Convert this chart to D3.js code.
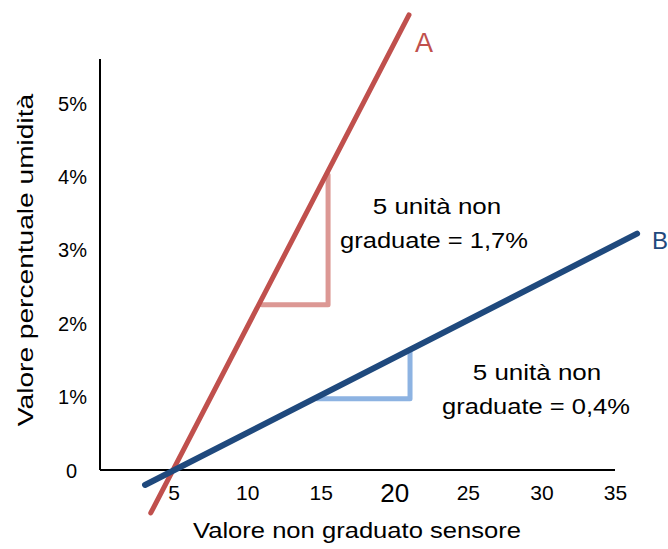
<!DOCTYPE html>
<html>
<head>
<meta charset="utf-8">
<script src="https://cdn.jsdelivr.net/npm/d3@7"></script>
<style>
  html, body { margin: 0; padding: 0; background: #ffffff; }
  svg { display: block; }
  text { font-family: "Liberation Sans", Arial, sans-serif; fill: #000; }
</style>
</head>
<body>
<script>
// ---- data ----
const xTicks = [5, 10, 15, 20, 25, 30, 35];
const xTickLabels = ["5", "10", "15", "20", "25", "30", "35"];
const yTicks = [0, 1, 2, 3, 4, 5];
const yTickLabels = ["0", "1%", "2%", "3%", "4%", "5%"];
const lineA = [[3.45, -0.585], [21.0, 6.2]];
const lineB = [[3.06, -0.204], [36.5, 3.22]];
const triangleA = [[11.0, 2.25], [15.5, 2.25], [15.5, 4.02]];
const triangleB = [[14.75, 0.97], [21.07, 0.97], [21.07, 1.62]];
const seriesNames = ["A", "B"];
const noteA = ["5 unità non", "graduate = 1,7%"];
const noteB = ["5 unità non", "graduate = 0,4%"];
const xTitle = "Valore non graduato sensore";
const yTitle = "Valore percentuale umidità";

// ---- layout ----
const W = 668, H = 549;
const svg = d3.select("body").append("svg").attr("width", W).attr("height", H);

const x = d3.scaleLinear().domain([0, 35]).range([100, 615]);
const y = d3.scaleLinear().domain([0, 5.6]).range([470, 59]);

// axes (no tick marks)
const xAxis = d3.axisBottom(x).tickValues(xTicks).tickSize(0).tickFormat((d, i) => xTickLabels[i]);
const gx = svg.append("g").attr("transform", `translate(0,${y(0)})`).call(xAxis);
gx.select(".domain").attr("stroke", "#000").attr("stroke-width", 2).attr("d", `M${x(0)},0H${x(35)}`);
gx.selectAll(".tick text")
  .attr("font-family", "Liberation Sans, Arial, sans-serif")
  .attr("font-size", d => d === 20 ? 26 : 21)
  .attr("fill", "#000")
  .attr("dy", null)
  .attr("y", d => d === 20 ? 32 : 30);

const yAxis = d3.axisLeft(y).tickValues(yTicks).tickSize(0).tickFormat((d, i) => yTickLabels[i]);
const gy = svg.append("g").attr("transform", `translate(${x(0)},0)`).call(yAxis);
gy.select(".domain").attr("stroke", "#000").attr("stroke-width", 2).attr("d", `M0,${y(5.6)}V${y(0)}`);
gy.selectAll(".tick text")
  .attr("font-family", "Liberation Sans, Arial, sans-serif")
  .attr("font-size", 20)
  .attr("fill", "#000")
  .attr("x", d => d === 0 ? -23 : -13)
  .attr("dy", "0.35em");

// lines
const line = d3.line().x(d => x(d[0])).y(d => y(d[1]));

svg.append("path").datum(triangleA).attr("d", line)
  .attr("fill", "none").attr("stroke", "#dc9894").attr("stroke-width", 5)
  .attr("stroke-linecap", "round").attr("stroke-linejoin", "round");
svg.append("path").datum(triangleB).attr("d", line)
  .attr("fill", "none").attr("stroke", "#8db3e2").attr("stroke-width", 5)
  .attr("stroke-linecap", "round").attr("stroke-linejoin", "round");

svg.append("path").datum(lineA).attr("d", line)
  .attr("fill", "none").attr("stroke", "#c0504d").attr("stroke-width", 5)
  .attr("stroke-linecap", "round");
svg.append("path").datum(lineB).attr("d", line)
  .attr("fill", "none").attr("stroke", "#1f497d").attr("stroke-width", 6)
  .attr("stroke-linecap", "round");

// series labels
svg.append("text").attr("x", 424).attr("y", 52).attr("text-anchor", "middle")
  .attr("font-size", 27).style("fill", "#c0504d").text(seriesNames[0]);
svg.append("text").attr("x", 652).attr("y", 249)
  .attr("font-size", 24).style("fill", "#1f497d").text(seriesNames[1]);

// stretched text helper
function stretched(cx, by, str, size, sx) {
  svg.append("text")
    .attr("transform", `translate(${cx},${by}) scale(${sx},1)`)
    .attr("text-anchor", "middle")
    .attr("font-size", size)
    .text(str);
}
stretched(437, 214, noteA[0], 22, 1.18);
stretched(434, 248, noteA[1], 22, 1.16);
stretched(537, 380, noteB[0], 22, 1.18);
stretched(536, 414, noteB[1], 22, 1.16);

// axis titles
stretched(357, 538, xTitle, 21.5, 1.19);
svg.append("text")
  .attr("transform", `translate(33,260) rotate(-90) scale(1.25,1)`)
  .attr("text-anchor", "middle")
  .attr("font-size", 22.5)
  .text(yTitle);
</script>
</body>
</html>
